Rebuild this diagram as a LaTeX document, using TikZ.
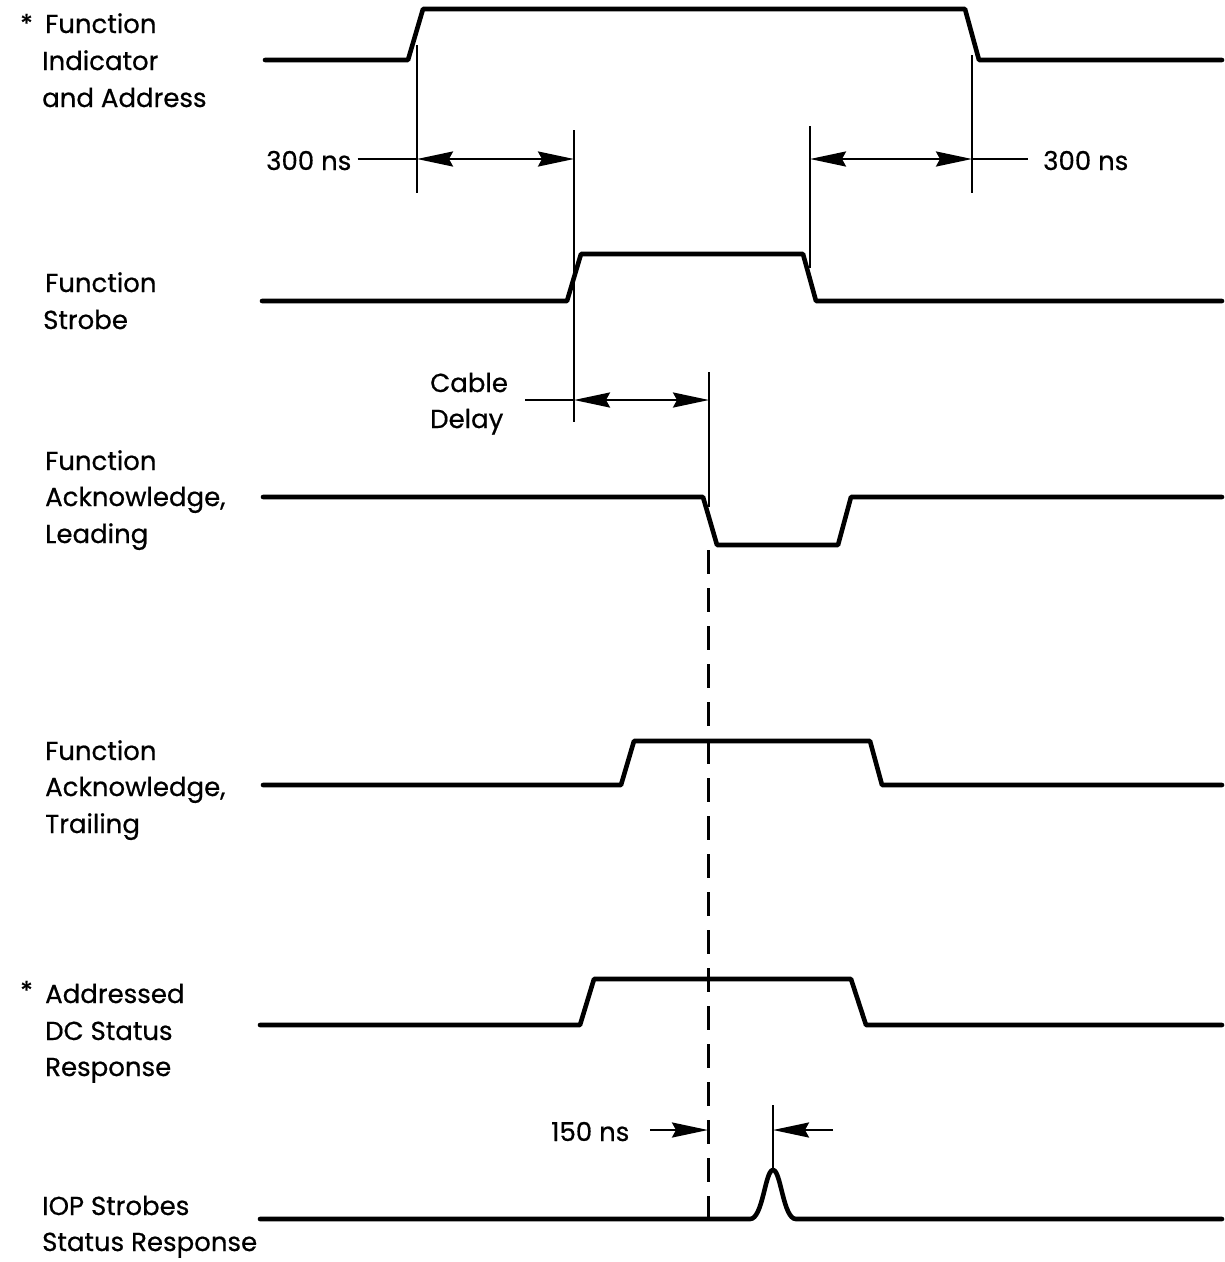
\documentclass[tikz,border=0pt]{standalone}
\usepackage{fontspec}
\setmainfont{Poppins}[FakeBold=0.6]
\usetikzlibrary{arrows.meta}
\begin{document}
\begin{tikzpicture}[x=1pt,y=-1pt,
  sig/.style={line width=4.6pt, line join=round, line cap=round},
  ext/.style={line width=2.4pt},
  dim/.style={line width=2.4pt},
  tip/.style={-{Stealth[length=36pt,width=15pt,inset=4pt]}},
  dtip/.style={{Stealth[length=36pt,width=15pt,inset=4pt]}-{Stealth[length=36pt,width=15pt,inset=4pt]}},
  lbl/.style={anchor=base west, inner sep=0pt, font=\fontsize{26}{37}\selectfont},
  dashln/.style={line width=3pt, dash pattern=on 24pt off 14pt}]
\useasboundingbox (0,0) rectangle (1225,1262);

% labels
\node[lbl] (st1) at (20,33) {*};
\node[lbl] (a1) at (45,33) {Function};
\node[lbl] (a2) at (42,70) {Indicator};
\node[lbl] (a3) at (42,107) {and Address};
\node[lbl] (b1) at (45,292) {Function};
\node[lbl] (b2) at (43,329) {Strobe};
\node[lbl] (c1) at (45,470) {Function};
\node[lbl] (c2) at (45,506) {Acknowledge,};
\node[lbl] (c3) at (45,543) {Leading};
\node[lbl] (d1) at (45,760) {Function};
\node[lbl] (d2) at (45,796) {Acknowledge,};
\node[lbl] (d3) at (45,833) {Trailing};
\node[lbl] (st2) at (20,1000) {*};
\node[lbl] (e1) at (45,1003) {Addressed};
\node[lbl] (e2) at (45,1040) {DC Status};
\node[lbl] (e3) at (45,1076) {Response};
\node[lbl] (f1) at (42,1215) {IOP Strobes};
\node[lbl] (f2) at (42,1251) {Status Response};
\node[lbl] (t300a) at (266,170) {300 ns};
\node[lbl] (t300b) at (1043,170) {300 ns};
\node[lbl] (cab1) at (430,392) {Cable};
\node[lbl] (cab2) at (430,428) {Delay};
\node[lbl] (t150) at (551,1141) {150 ns};

% waveforms
\draw[sig] (265,60) -- (408,60) -- (423,9) -- (965,9) -- (979,60) -- (1222,60);
\draw[sig] (262,301) -- (567,301) -- (581,254) -- (803,254) -- (816,301) -- (1222,301);
\draw[sig] (263,497) -- (703,497) -- (717,545) -- (838,545) -- (851,497) -- (1222,497);
\draw[sig] (263,785) -- (621,785) -- (634,741) -- (870,741) -- (882,785) -- (1222,785);
\draw[sig] (260,1025) -- (580,1025) -- (594,979) -- (851,979) -- (866,1025) -- (1222,1025);
\draw[sig] (260,1219) -- (750,1219) .. controls (763,1219) and (765,1170) .. (773,1170) .. controls (781,1170) and (783,1219) .. (796,1219) -- (1222,1219);

% extension lines
\coordinate (v1t) at (417,45);  \coordinate (v1b) at (417,193);
\coordinate (v2t) at (574,130); \coordinate (v2b) at (574,422);
\coordinate (v3t) at (810,126); \coordinate (v3b) at (810,268);
\coordinate (v4t) at (972,55);  \coordinate (v4b) at (972,193);
\coordinate (v5t) at (709,372); \coordinate (v5b) at (709,507);
\coordinate (v6t) at (773,1105); \coordinate (v6b) at (773,1168);
\draw[ext] (v1t) -- (v1b);
\draw[ext] (v2t) -- (v2b);
\draw[ext] (v3t) -- (v3b);
\draw[ext] (v4t) -- (v4b);
\draw[ext] (v5t) -- (v5b);
\draw[ext] (v6t) -- (v6b);
\coordinate (dt) at (708,550); \coordinate (db) at (708,1218);
\draw[dashln] (dt) -- (db);

% dimension arrows
\coordinate (a300l) at (417,159); \coordinate (b300l) at (574,159);
\coordinate (a300r) at (810,159); \coordinate (b300r) at (972,159);
\draw[dim] (t300a.east |- a300l) ++(6,0) -- (a300l);
\draw[dim,dtip] (a300l) -- (b300l);
\draw[dim,dtip] (a300r) -- (b300r);
\draw[dim] (b300r) -- (1028,159);
\coordinate (cdl) at (574,400); \coordinate (cdr) at (709,400);
\draw[dim] (525,400) -- (cdl);
\draw[dim,dtip] (cdl) -- (cdr);
\coordinate (p150l) at (708,1130); \coordinate (p150r) at (773,1130);
\draw[dim,tip] (650,1130) -- (p150l);
\draw[dim,tip] (833,1130) -- (p150r);
\end{tikzpicture}
\end{document}
